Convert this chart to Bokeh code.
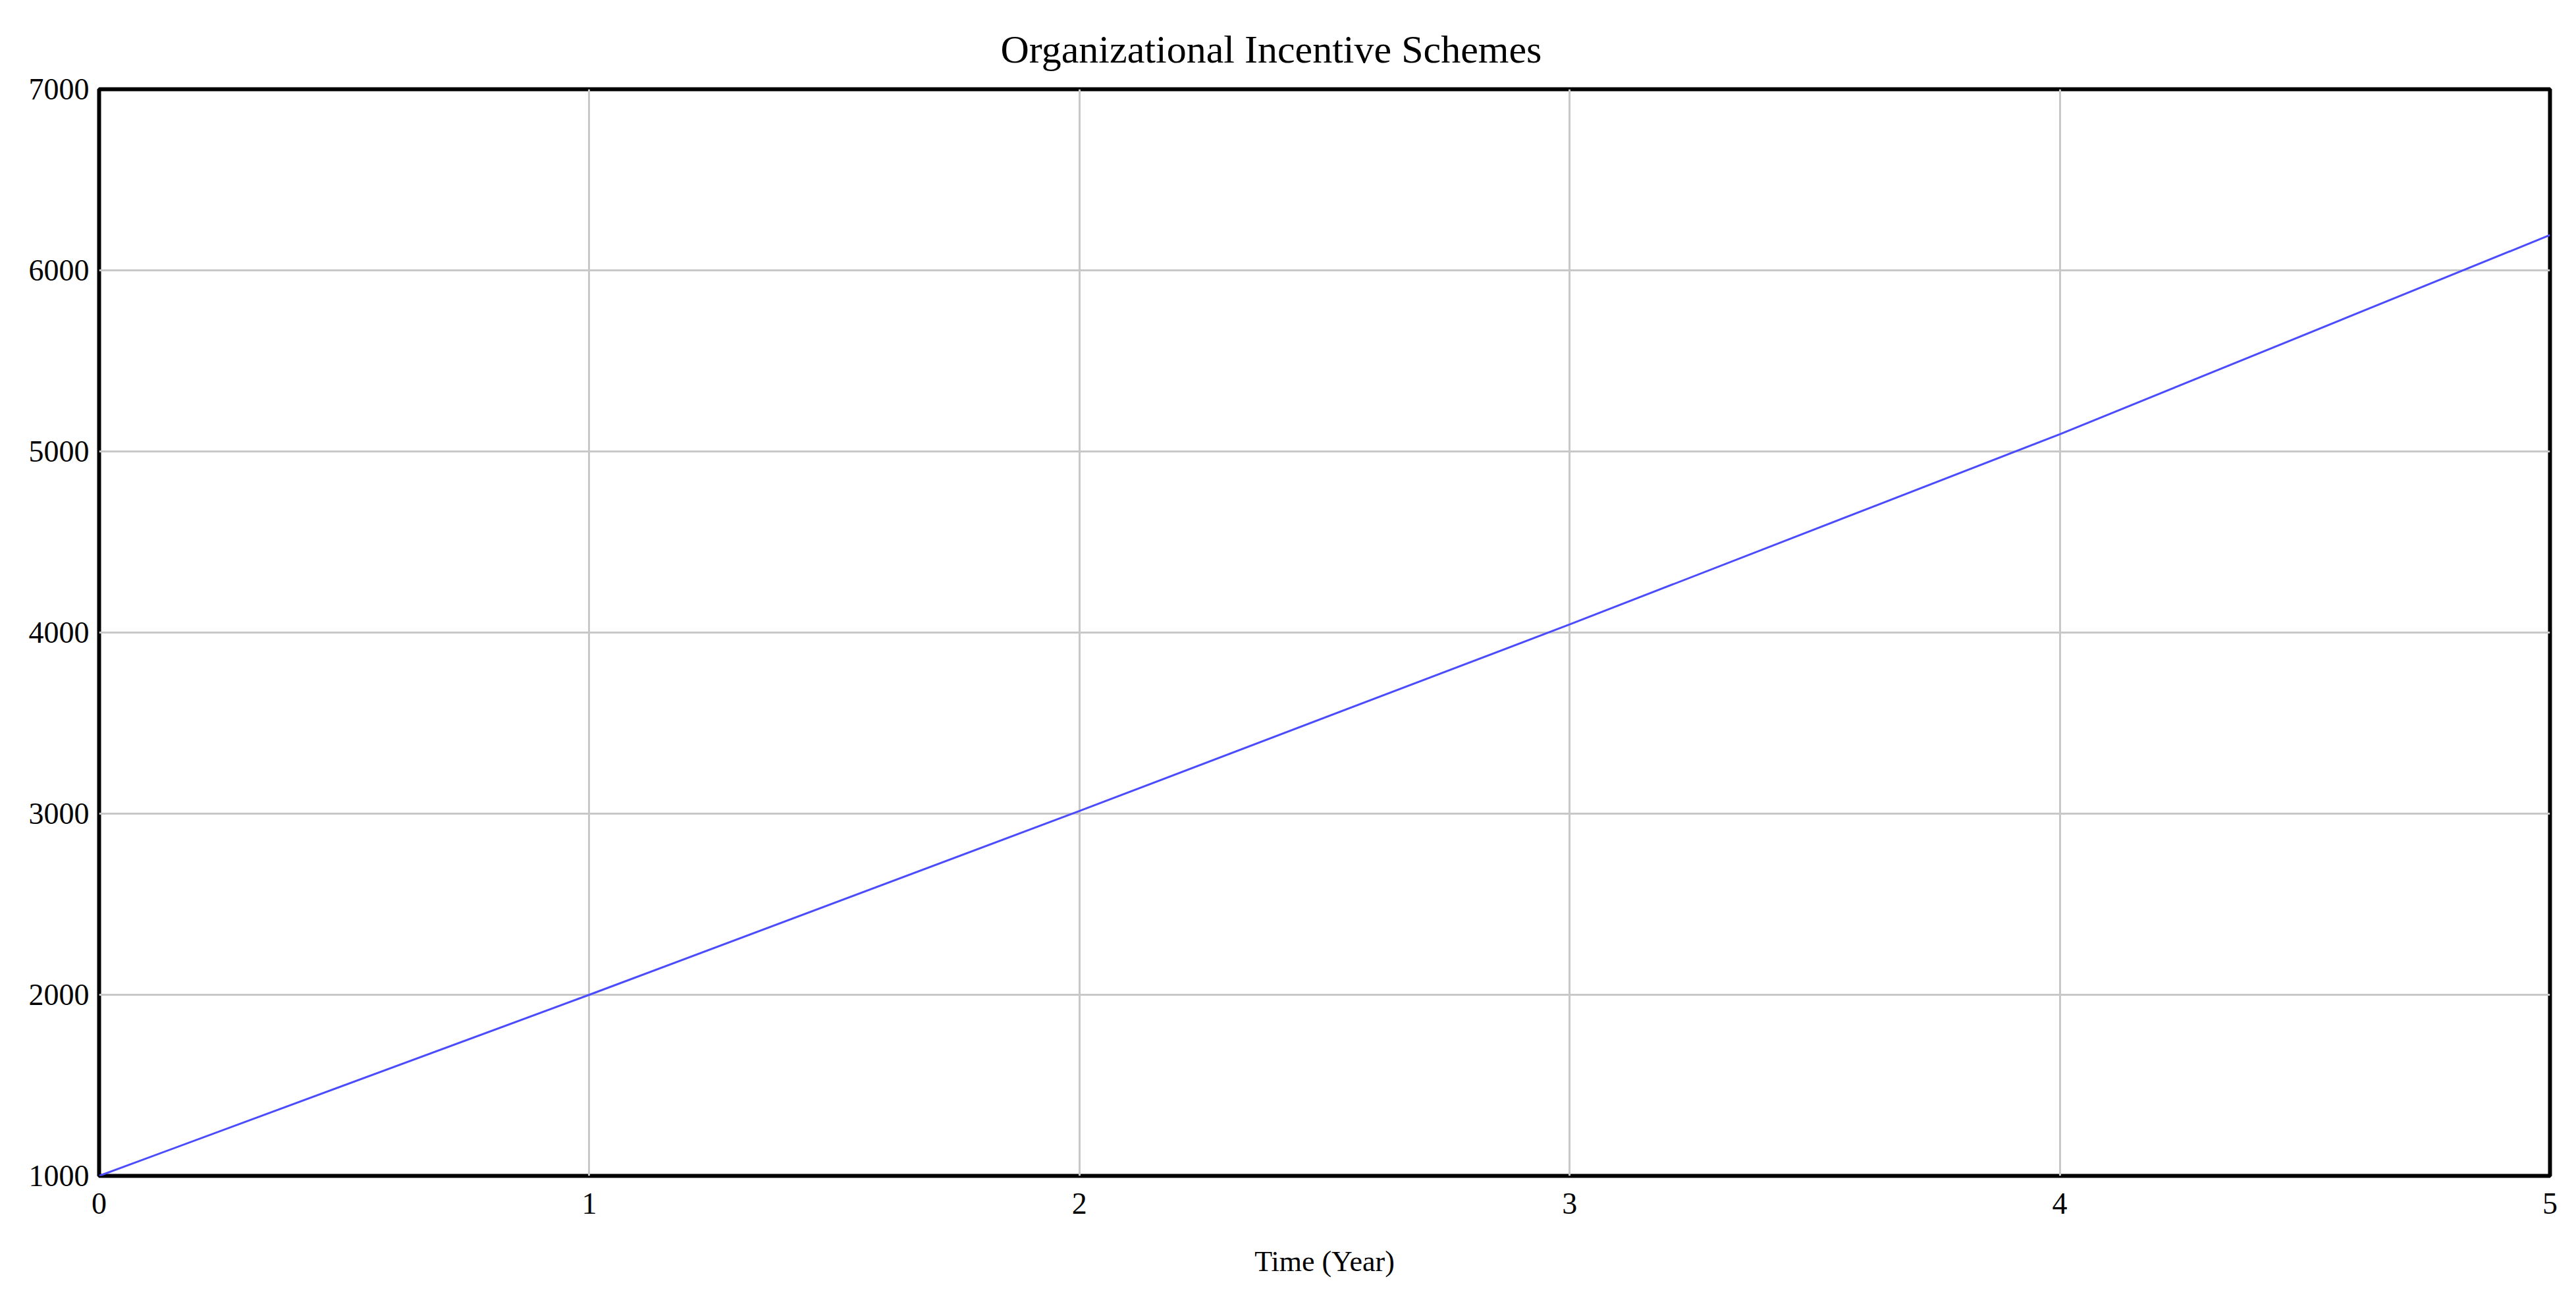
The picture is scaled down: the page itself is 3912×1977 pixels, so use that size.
from bokeh.plotting import figure
from bokeh.models import Range1d, FixedTicker
from bokeh.embed import file_html
from bokeh.resources import INLINE

# Data
time_years = [0, 1, 2, 3, 4, 5]
incentive_values = [1000, 2000, 3015, 4045, 5095, 6195]
x_ticks = [0, 1, 2, 3, 4, 5]
y_ticks = [1000, 2000, 3000, 4000, 5000, 6000, 7000]

title_text = "Organizational Incentive Schemes"
x_label = "Time (Year)"

FONT = "Liberation Serif"

p = figure(
    width=3896, height=1961,
    output_backend="svg", toolbar_location=None,
    x_range=Range1d(0, 5), y_range=Range1d(1000, 7000),
    title=title_text,
    min_border_left=150, min_border_right=24,
    min_border_top=135, min_border_bottom=176,
)

p.line(time_years, incentive_values, line_color="#4b4bff", line_width=3)

# Title
p.title.text_font = FONT
p.title.text_font_size = "60px"
p.title.text_font_style = "normal"
p.title.text_color = "black"
p.title.align = "left"
p.title.offset = 1369
p.title.standoff = 55

# Frame
p.outline_line_color = "black"
p.outline_line_width = 6
p.outline_line_alpha = 1.0
p.background_fill_color = "white"
p.border_fill_color = "white"

# Axes
for ax in (p.xaxis, p.yaxis):
    ax.axis_line_color = None
    ax.major_tick_line_color = None
    ax.minor_tick_line_color = None
    ax.major_label_text_font = FONT
    ax.major_label_text_font_size = "46px"
    ax.major_label_text_color = "black"

p.xaxis.ticker = FixedTicker(ticks=x_ticks)
p.yaxis.ticker = FixedTicker(ticks=y_ticks)
p.xaxis.major_label_standoff = 20
p.yaxis.major_label_standoff = 9

p.xaxis.axis_label = x_label
p.xaxis.axis_label_text_font = FONT
p.xaxis.axis_label_text_font_size = "44px"
p.xaxis.axis_label_text_font_style = "normal"
p.xaxis.axis_label_text_color = "black"
p.xaxis.axis_label_standoff = 45

# Grid
p.xgrid.ticker = FixedTicker(ticks=x_ticks)
p.ygrid.ticker = FixedTicker(ticks=y_ticks)
for g in (p.xgrid, p.ygrid):
    g.grid_line_color = "#c8c8c8"
    g.grid_line_width = 3

open("out.html", "w").write(file_html(p, INLINE))
